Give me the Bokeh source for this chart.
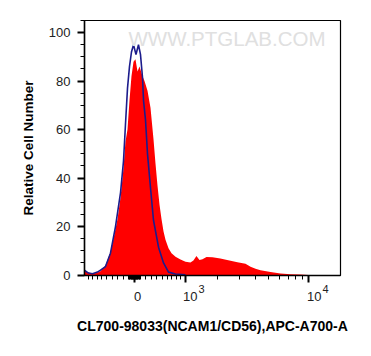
import numpy as np
from bokeh.plotting import figure
from bokeh.layouts import column
from bokeh.models import Range1d, FixedTicker, CustomJSTickFormatter, Label
from bokeh.embed import file_html
from bokeh.resources import INLINE

# ---- data (fluorescence intensity, relative cell number) ----
COFACTOR = 1030.0

sample_x = [-990, -891, -800, -714, -630, -529, -433, -376, -302, -247, -194, -159,
            -123, -88, -53, -17, 17, 53, 88, 141, 176, 230, 284, 339, 376, 413,
            452, 491, 530, 569, 630, 693, 779, 891, 1011, 1136, 1215, 1299, 1386,
            1476, 1603, 1805, 2100, 2385, 2879, 3327, 3641, 3976, 4336, 5166,
            6134, 7290, 8660, 9930]
sample_y = [1.8, 1.0, 0.6, 0.8, 1.6, 4.0, 9.5, 15, 23, 32, 44, 55,
            60, 72, 82, 88, 89, 84, 86, 82, 80, 76, 69, 56, 46, 37,
            29, 23, 18, 14.5, 11, 9, 7.5, 6.4, 5.5, 5.2, 6.0, 7.8, 6.2,
            6.5, 7.4, 7.3, 6.8, 6.2, 5.3, 4.6, 3.4, 2.6, 2.0, 1.2,
            0.6, 0.3, 0.2, 0.0]

control_x = [-990, -891, -800, -693, -630, -529, -433, -339, -247, -194, -159,
             -123, -88, -53, -17, 26, 70, 105, 141, 159, 194, 230, 284, 339,
             433, 530, 630, 779, 1011]
control_y = [2.0, 0.8, 0.5, 1.2, 2.0, 3.5, 9, 20, 34, 47, 62,
             77, 86, 92, 95, 91, 95, 91, 81.5, 72, 64, 50, 36, 22.6,
             11.5, 5, 1.2, 0.4, 0.1]

major_ticks = [0, 1000, 10000]
tick_bases = ["0", "10", "10"]
tick_exponents = ["", "3", "4"]
minor_ticks = (list(range(-900, 0, 100)) + list(range(-90, 100, 10)) +
               list(range(100, 1000, 100)) + list(range(2000, 10000, 1000)))
y_major = [0, 20, 40, 60, 80, 100]
y_minor = [v for v in range(0, 106, 5) if v % 20]

x_label = "CL700-98033(NCAM1/CD56),APC-A700-A"
y_label = "Relative Cell Number"
watermark = "WWW.PTGLAB.COM"


def T(v):
    return np.arcsinh(np.asarray(v, dtype=float) / COFACTOR)


W, H = 371, 356
BL, BR, BT, BB = 84, 31, 20, 81
X0, X1 = float(T(-986)), float(T(17140))
Y0, Y1 = -0.2, 105

p = figure(width=W, height=H, output_backend="svg", toolbar_location=None,
           x_range=Range1d(X0, X1), y_range=Range1d(Y0, Y1))
p.min_border_left = BL
p.min_border_right = BR
p.min_border_top = BT
p.min_border_bottom = BB

p.xgrid.visible = False
p.ygrid.visible = False
p.outline_line_color = "black"
p.outline_line_width = 1.2
p.background_fill_color = "white"
p.border_fill_color = "white"

p.varea(x=T(sample_x), y1=0, y2=sample_y, fill_color="#ff0000", fill_alpha=1.0)
p.line(x=T(control_x), y=control_y, line_color="#1c1c8c", line_width=1.6)

# x axis
xa = p.xaxis[0]
xa.ticker = FixedTicker(ticks=[float(t) for t in T(major_ticks)],
                        minor_ticks=[float(t) for t in T(minor_ticks)])
xa.formatter = CustomJSTickFormatter(code='return "";')
xa.axis_label = x_label
xa.axis_label_text_font = "Liberation Sans"
xa.axis_label_text_font_style = "bold"
xa.axis_label_text_font_size = "14px"
xa.axis_label_text_color = "black"
xa.axis_label_standoff = 35
xa.major_label_text_font = "Liberation Sans"
xa.major_label_text_font_size = "13px"
xa.major_label_standoff = 8
xa.major_tick_in = 0
xa.major_tick_out = 7
xa.minor_tick_in = 0
xa.minor_tick_out = 4
xa.major_tick_line_width = 2
xa.axis_line_width = 1.5

ya = p.yaxis[0]
ya.ticker = FixedTicker(ticks=y_major, minor_ticks=y_minor)
ya.axis_label = y_label
ya.axis_label_text_font = "Liberation Sans"
ya.axis_label_text_font_style = "bold"
ya.axis_label_text_font_size = "13.5px"
ya.axis_label_text_color = "black"
ya.axis_label_standoff = 10
ya.major_label_text_font = "Liberation Sans"
ya.major_label_text_font_size = "13px"
ya.major_label_text_color = "#222222"
ya.major_label_standoff = 7
ya.major_tick_in = 0
ya.major_tick_out = 7
ya.minor_tick_in = 0
ya.minor_tick_out = 4
ya.major_tick_line_width = 2
ya.axis_line_width = 1.5

# ---- transparent overlay (its frame is column-aligned with the main plot
#      horizontally, full height vertically) for x tick labels with exponents
sy = (Y1 - Y0) / (H - BT - BB)
ov = figure(width=W, height=H, output_backend="svg", toolbar_location=None,
            x_axis_location=None, y_axis_location=None, min_border=0,
            x_range=Range1d(X0, X1),
            y_range=Range1d(Y0 - BB * sy, Y1 + BT * sy))
ov.xgrid.visible = False
ov.ygrid.visible = False
ov.outline_line_color = None
ov.background_fill_alpha = 0
ov.border_fill_alpha = 0
ov.title.visible = False
ov.margin = (-H, 0, 0, 0)

ov.add_layout(Label(x=X0, y=Y1, x_offset=44, y_offset=-6,
                    text=watermark, text_font="Liberation Sans",
                    text_font_size="20.5px", text_color="#e0e0e0",
                    text_baseline="top", text_align="left"))

for t, base, ex in zip(major_ticks, tick_bases, tick_exponents):
    if ex:
        ov.add_layout(Label(x=float(T(t)), y=Y0, x_offset=-2, y_offset=-16,
                            text=base, text_font="Liberation Sans",
                            text_font_size="13px", text_color="#222222",
                            text_align="left", text_baseline="top"))
        ov.add_layout(Label(x=float(T(t)), y=Y0, x_offset=13.5, y_offset=-9,
                            text=ex, text_font="Liberation Sans",
                            text_font_size="11px", text_color="#222222",
                            text_align="left", text_baseline="top"))
    else:
        ov.add_layout(Label(x=float(T(t)), y=Y0, x_offset=3, y_offset=-16,
                            text=base, text_font="Liberation Sans",
                            text_font_size="13px", text_color="#222222",
                            text_align="center", text_baseline="top"))

layout = column(p, ov, spacing=0)
open("out.html", "w").write(file_html(layout, INLINE))
